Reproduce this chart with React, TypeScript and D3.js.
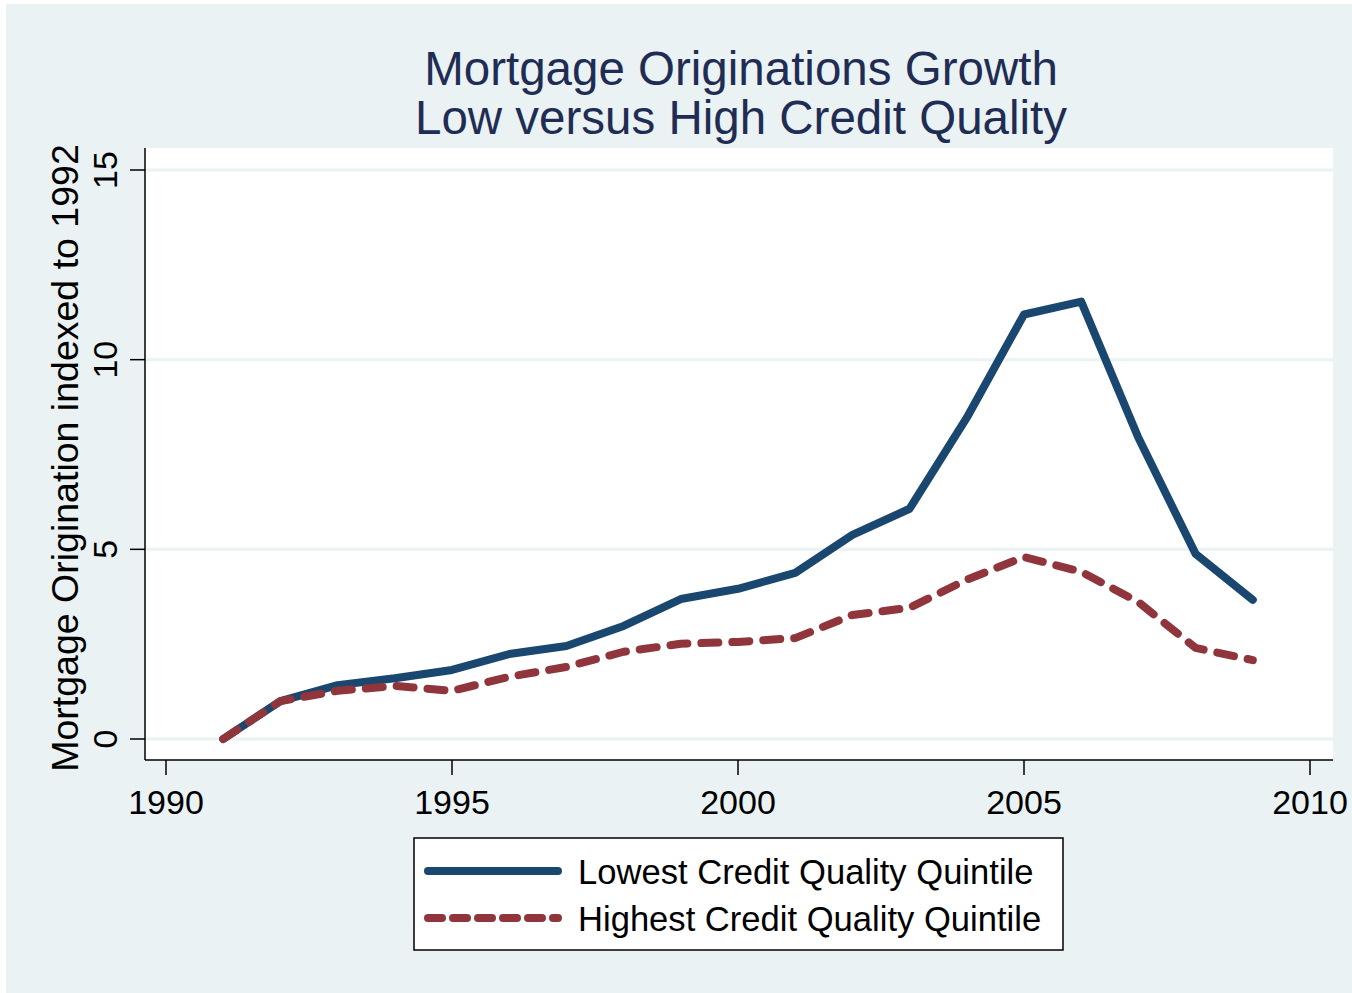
import * as d3 from "d3";
import React from "react";

const years = [1991, 1992, 1993, 1994, 1995, 1996, 1997, 1998, 1999, 2000, 2001, 2002, 2003, 2004, 2005, 2006, 2007, 2008, 2009];
const lowestQuality = [0, 1.0, 1.42, 1.6, 1.82, 2.24, 2.45, 2.98, 3.69, 3.96, 4.38, 5.38, 6.07, 8.47, 11.19, 11.53, 7.94, 4.88, 3.67];
const highestQuality = [0, 1.0, 1.27, 1.4, 1.27, 1.64, 1.9, 2.3, 2.51, 2.56, 2.66, 3.27, 3.46, 4.2, 4.8, 4.41, 3.61, 2.4, 2.08];
const xTicks = [1990, 1995, 2000, 2005, 2010];
const yTicks = [0, 5, 10, 15];
const seriesNames = ["Lowest Credit Quality Quintile", "Highest Credit Quality Quintile"];

const W = 1352, H = 993;
const bg = "#eaf2f3";
const blue = "#1a476f";
const red = "#90353b";
const font = "'Liberation Sans', Arial, sans-serif";

export default function App() {
    // plot region
    const left = 145, right = 1333, top = 148, bottom = 760;
    const x = d3.scaleLinear().domain([1990, 2010]).range([166, 1310]);
    const y = d3.scaleLinear().domain([0, 15]).range([739, 170]);

    const line = d3.line<number>()
        .x((_, i) => x(years[i]))
        .y(d => y(d));

    return (
        <svg width={W} height={H} style={{ position: "absolute", left: 0, top: 0 }} fontFamily={font}>
            <rect x={0} y={0} width={W} height={H} fill="#ffffff" />
            <rect x={6} y={4} width={W - 6} height={H - 4} fill={bg} />
            <rect x={left} y={top} width={right - left} height={bottom - top} fill="#ffffff" />

            {yTicks.map(t => (
                <line key={"g" + t} x1={left} x2={right} y1={y(t)} y2={y(t)} stroke={bg} strokeWidth={3} />
            ))}

            <text x={741} y={85} textAnchor="middle" fontSize={47.5} fill="#1f2d55">Mortgage Originations Growth</text>
            <text x={741} y={134} textAnchor="middle" fontSize={47.5} fill="#1f2d55">Low versus High Credit Quality</text>

            {/* axes */}
            <line x1={left} x2={left} y1={top} y2={bottom} stroke="#000" strokeWidth={1.5} />
            <line x1={left} x2={right} y1={bottom} y2={bottom} stroke="#000" strokeWidth={1.5} />
            {yTicks.map(t => (
                <g key={"y" + t}>
                    <line x1={left - 15} x2={left} y1={y(t)} y2={y(t)} stroke="#000" strokeWidth={1.5} />
                    <text transform={`translate(117,${y(t)}) rotate(-90)`} textAnchor="middle" fontSize={34} fill="#000">{t}</text>
                </g>
            ))}
            {xTicks.map(t => (
                <g key={"x" + t}>
                    <line x1={x(t)} x2={x(t)} y1={bottom} y2={bottom + 15} stroke="#000" strokeWidth={1.5} />
                    <text x={x(t)} y={814} textAnchor="middle" fontSize={34} fill="#000">{t}</text>
                </g>
            ))}
            <text transform="translate(78,458) rotate(-90)" textAnchor="middle" fontSize={37.5} fill="#000">Mortgage Origination indexed to 1992</text>

            <path d={line(lowestQuality) ?? ""} fill="none" stroke={blue} strokeWidth={8} strokeLinejoin="round" strokeLinecap="round" />
            <path d={line(highestQuality) ?? ""} fill="none" stroke={red} strokeWidth={8} strokeLinejoin="round" strokeLinecap="round" strokeDasharray="17 14" />

            {/* legend */}
            <rect x={414} y={838} width={649} height={112} fill="#ffffff" stroke="#000" strokeWidth={1.5} />
            <line x1={428} x2={558} y1={871} y2={871} stroke={blue} strokeWidth={8} strokeLinecap="round" />
            <line x1={428} x2={558} y1={918} y2={918} stroke={red} strokeWidth={8} strokeLinecap="round" strokeDasharray="14 11" />
            <text x={578} y={884} fontSize={34.6} fill="#000">{seriesNames[0]}</text>
            <text x={578} y={931} fontSize={34.6} fill="#000">{seriesNames[1]}</text>
        </svg>
    );
}
